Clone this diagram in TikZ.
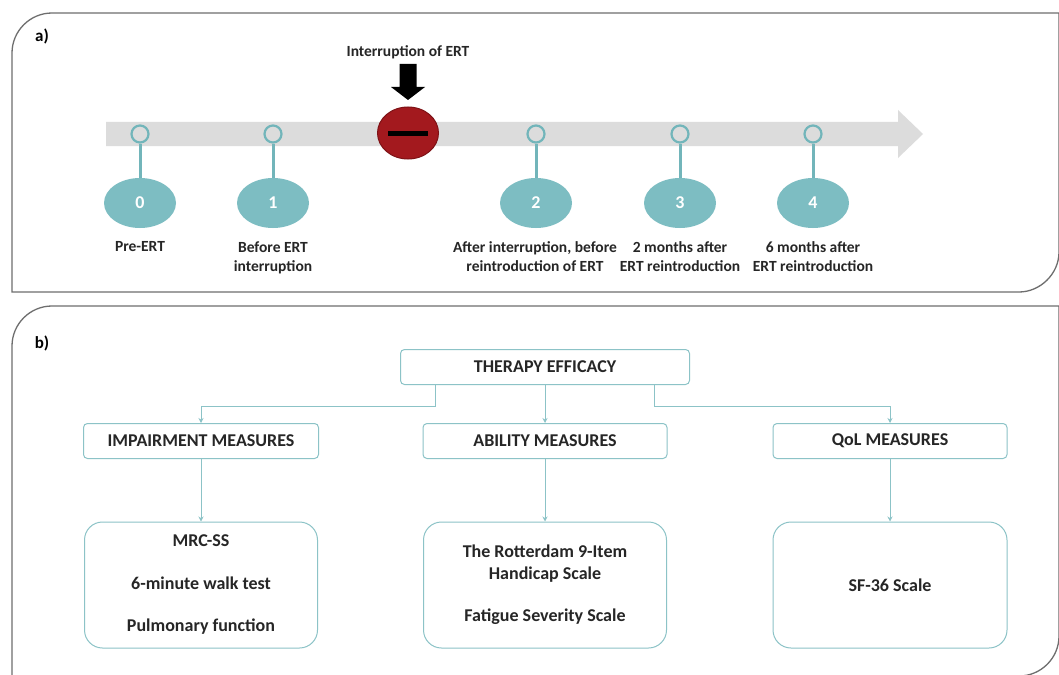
\documentclass[tikz,border=0pt]{standalone}
\usepackage{fontspec}
\setmainfont{Carlito}
\usetikzlibrary{shapes.geometric,arrows.meta,calc}
\definecolor{framegrey}{HTML}{6E6E6E}
\definecolor{bargrey}{HTML}{DCDCDC}
\definecolor{tealpin}{HTML}{72B5BA}
\definecolor{tealfill}{HTML}{7DBDC2}
\definecolor{stopred}{HTML}{A3191E}
\definecolor{stopedge}{HTML}{7E1216}
\definecolor{txt}{HTML}{262626}
\definecolor{boxline}{HTML}{8CC3C7}
\tikzset{
  panel/.style={draw=framegrey, line width=1.3pt},
  pin/.style={circle, draw=tealpin, line width=2.2pt, fill=bargrey, minimum size=17pt, inner sep=0pt},
  stem/.style={draw=tealpin, line width=3pt},
  stage/.style={ellipse, fill=tealfill, minimum width=72pt, minimum height=50pt, inner sep=0pt,
    text=white, font=\fontsize{18}{20}\selectfont\bfseries},
  tlabel/.style={align=center, text=txt, font=\fontsize{15.5}{19}\selectfont\bfseries, anchor=north},
  panellabel/.style={text=black, font=\fontsize{17}{19}\selectfont\bfseries},
  headbox/.style={draw=boxline, line width=1pt, rounded corners=4pt, minimum height=35pt,
    text=txt, font=\fontsize{18}{21}\selectfont\bfseries},
  listbox/.style={draw=boxline, line width=1pt, rounded corners=18pt, minimum height=126pt,
    text=txt, align=center, font=\fontsize{18}{21.5}\selectfont\bfseries},
  conn/.style={draw=boxline, line width=1pt, -{Stealth[length=5pt,width=5pt]}},
}
\begin{document}
\begin{tikzpicture}[x=1pt, y=-1pt]
\useasboundingbox (0,0) rectangle (1059,674);
\fill[white] (0,0) rectangle (1059,674);

% ---------- panel a: timeline ----------
\draw[panel] (12,292) -- (12,53) .. controls (12,31) and (30,13) .. (52,13)
  -- (1059,13) -- (1059,252) .. controls (1059,274) and (1040,292) .. (1019,292) -- cycle;
\node[panellabel] (la) at (42,36) {a)};

% timeline bar with arrow head
\fill[bargrey] (106,122) -- (898,122) -- (898,110) -- (923,134) -- (898,158) -- (898,146) -- (106,146) -- cycle;

% interruption marker
\node[ellipse, fill=stopred, draw=stopedge, line width=1pt, minimum width=61pt, minimum height=52pt] (stop) at (408,133) {};
\draw[black, line width=5pt] ([xshift=11pt]stop.west) -- ([xshift=-11pt]stop.east);
\node[tlabel, anchor=center] (intr) at (408,52) {Interruption of ERT};
\coordinate (ar) at (408,64);
\fill[black] ($(ar)+(-8.5,0)$) -- ($(ar)+(8.5,0)$) -- ($(ar)+(8.5,23)$) -- ($(ar)+(17,23)$)
  -- ($(ar)+(0,36)$) -- ($(ar)+(-17,23)$) -- ($(ar)+(-8.5,23)$) -- cycle;

% time points
\foreach \i/\x in {0/140, 1/273, 2/536, 3/680, 4/813} {
  \node[stage] (s\i) at (\x,203) {\i};
  \node[pin] (p\i) at (\x,134) {};
  \draw[stem] (p\i) -- (s\i);
}
\node[tlabel] (t0) at (140,238) {Pre-ERT};
\node[tlabel] (t1) at (273,238) {Before ERT\\interruption};
\node[tlabel] (t2) at (535,238) {After interruption, before\\reintroduction of ERT};
\node[tlabel] (t3) at (680,238) {2 months after\\ERT reintroduction};
\node[tlabel] (t4) at (813,238) {6 months after\\ERT reintroduction};

% ---------- panel b: outcome measures ----------
\draw[panel] (12,680) -- (12,346) .. controls (12,324) and (30,306) .. (52,306)
  -- (1059,306) -- (1059,636) .. controls (1059,658) and (1041,676) .. (1019,676) -- (12,676);
\node[panellabel] (lb) at (42,343) {b)};

\node[headbox, minimum width=289pt] (eff) at (545,367) {THERAPY EFFICACY};
\node[headbox, minimum width=235pt] (imp) at (201,441) {IMPAIRMENT MEASURES};
\node[headbox, minimum width=244pt] (abi) at (545,441) {ABILITY MEASURES};
\node[headbox, minimum width=234pt] (qol) at (890,441) {QoL MEASURES};

\node[listbox, minimum width=233pt] (impl) at (201,585) {MRC-SS\\[21pt]6-minute walk test\\[21pt]Pulmonary function};
\node[listbox, minimum width=243pt] (abil) at (545,585) {The Rotterdam 9-Item\\Handicap Scale\\[21pt]Fatigue Severity Scale};
\node[listbox, minimum width=234pt] (qoll) at (890,585) {SF-36 Scale};

\draw[conn] (eff.south -| 435,0) |- (0,406 -| imp.north) -- (imp.north);
\draw[conn] (eff.south) -- (abi.north);
\draw[conn] (eff.south -| 654,0) |- (0,406 -| qol.north) -- (qol.north);
\draw[conn] (imp.south) -- (impl.north);
\draw[conn] (abi.south) -- (abil.north);
\draw[conn] (qol.south) -- (qoll.north);
\end{tikzpicture}
\end{document}
